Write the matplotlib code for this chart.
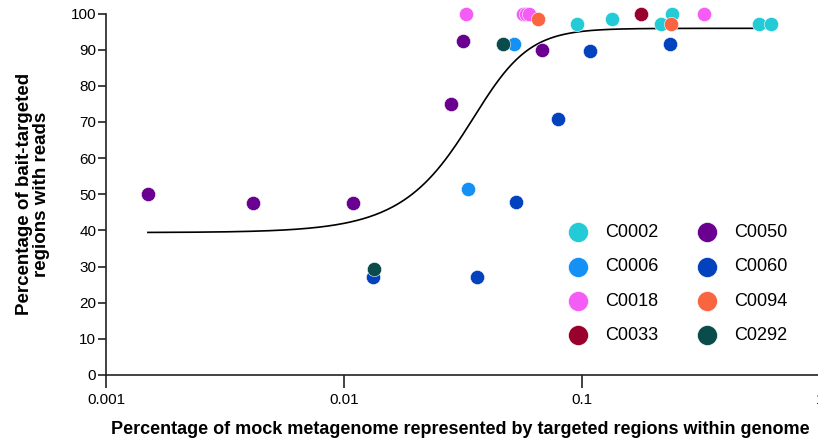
import numpy as np
import matplotlib
matplotlib.use("Agg")
import matplotlib.pyplot as plt

plt.rcParams['font.family'] = ['Liberation Sans', 'DejaVu Sans']

# strain names and colours
strains = ['C0002', 'C0006', 'C0018', 'C0033', 'C0050', 'C0060', 'C0094', 'C0292']
colours = ['#22cbd6', '#1591f5', '#f55cf5', '#98002e', '#6a0090', '#0342be', '#f96540', '#0a4b4b']

# x = % of mock metagenome in targeted regions, y = % bait-targeted regions with reads
x_c0002 = [0.0951, 0.134, 0.214, 0.239, 0.552, 0.622]
y_c0002 = [97.0, 98.5, 97.0, 100.0, 97.0, 97.0]
x_c0006 = [0.0331, 0.0518]
y_c0006 = [51.4, 91.5]
x_c0018 = [0.0326, 0.0566, 0.058, 0.0597, 0.324]
y_c0018 = [100.0, 100.0, 100.0, 100.0, 100.0]
x_c0033 = [0.177]
y_c0033 = [100.0]
x_c0050 = [0.0015, 0.00413, 0.0109, 0.0281, 0.0317, 0.0678]
y_c0050 = [50.0, 47.5, 47.5, 75.0, 92.5, 89.9]
x_c0060 = [0.01325, 0.0362, 0.0526, 0.0791, 0.1077, 0.235]
y_c0060 = [27.0, 27.0, 47.9, 70.8, 89.6, 91.7]
x_c0094 = [0.0652, 0.237]
y_c0094 = [98.5, 97.0]
x_c0292 = [0.01336, 0.0467]
y_c0292 = [29.2, 91.7]

xs = [x_c0002, x_c0006, x_c0018, x_c0033, x_c0050, x_c0060, x_c0094, x_c0292]
ys = [y_c0002, y_c0006, y_c0018, y_c0033, y_c0050, y_c0060, y_c0094, y_c0292]

# five parameter logistic fit (bottom, top, logC, hill slope, asymmetry)
fit_bottom, fit_top, fit_logc, fit_hill, fit_asym = 39.4, 95.9, -1.389, 4.0, 0.55
fit_xmin, fit_xmax = 0.0015, 0.62

fig = plt.figure(figsize=(8.18, 4.45), dpi=100)
ax = fig.add_axes([106/818, 70/445, 714/818, 361.5/445])

for name, c, xv, yv in zip(strains, colours, xs, ys):
    ax.scatter(xv, yv, s=105, color=c, edgecolors='white', linewidths=0.4,
               label=name, clip_on=False, zorder=3)

xf = np.logspace(np.log10(fit_xmin), np.log10(fit_xmax), 300)
u = 10 ** ((fit_logc - np.log10(xf)) * fit_hill)
yf = fit_bottom + (fit_top - fit_bottom) / (1 + u) ** fit_asym
ax.plot(xf, yf, color='black', lw=1.2, zorder=2)

ax.set_xscale('log')
ax.set_xlim(0.001, 1)
ax.set_ylim(0, 100)
ax.set_yticks(np.arange(0, 101, 10))
ax.set_xticks([0.001, 0.01, 0.1, 1])
ax.set_xticklabels(['0.001', '0.01', '0.1', '1'])
ax.minorticks_off()
ax.spines['top'].set_visible(False)
ax.spines['right'].set_visible(False)
for s in ['left', 'bottom']:
    ax.spines[s].set_linewidth(1.2)
    ax.spines[s].set_color('#222222')
ax.tick_params(axis='y', length=6, width=1.2, color='#222222', labelsize=11, pad=1)
ax.tick_params(axis='x', length=9, width=1.2, color='#222222', labelsize=11, pad=4)

ax.set_xlabel('Percentage of mock metagenome represented by targeted regions within genome',
              fontsize=13, fontweight='bold')
ax.xaxis.set_label_coords(0.496, -0.128)
ax.set_ylabel('Percentage of bait-targeted\nregions with reads',
              fontsize=13.5, fontweight='bold', linespacing=1.05)
ax.yaxis.set_label_coords(-0.078, 0.5)

ax.legend(ncol=2, loc='upper left', bbox_to_anchor=(0.626, 0.462), frameon=False,
          fontsize=13, handletextpad=1.0, columnspacing=2.2, labelspacing=0.95,
          markerscale=1.4, handlelength=1.0)

fig.savefig('out.png', dpi=100)
